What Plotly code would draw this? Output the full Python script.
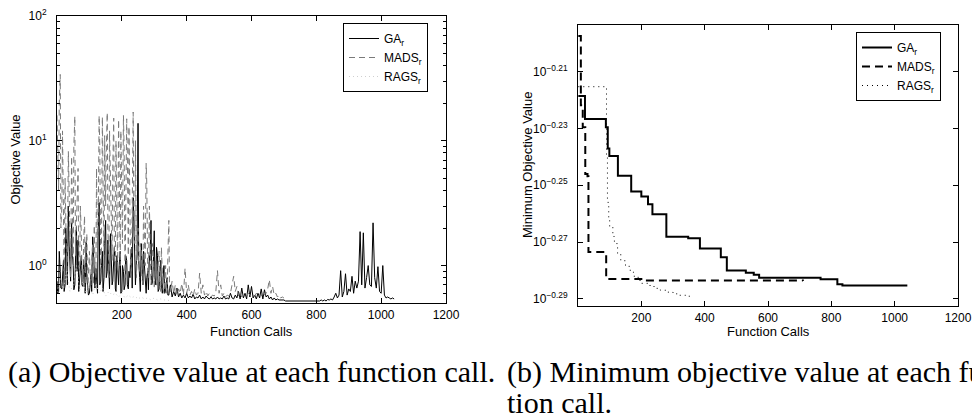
import plotly.graph_objects as go

# ---------------- (a) objective value at each function call ----------------
ga_calls = list(range(0, 1041, 5))
ga_values = [
    0.75, 0.62, 0.9, 0.65, 1.1, 0.7, 1.4, 3.0, 0.8, 2.2,
    1.0, 0.7, 2.05, 1.6, 0.8, 1.2, 0.68, 0.9, 1.55, 0.62,
    0.6, 0.85, 1.7, 0.7, 0.95, 0.6, 3.2, 0.75, 1.3, 0.8,
    2.3, 0.9, 1.1, 1.8, 0.7, 1.0, 0.65, 1.2, 0.7, 1.3,
    0.62, 0.9, 0.7, 1.1, 0.65, 0.8, 1.4, 3.5, 0.9, 1.1,
    13.8, 0.8, 1.5, 0.7, 1.0, 0.6, 0.9, 1.2, 2.3, 0.75,
    1.9, 0.7, 1.2, 0.65, 1.1, 0.6, 1.0, 0.62, 0.8, 0.58,
    0.7, 0.56, 0.62, 0.57, 0.66, 0.56, 0.6, 0.55, 0.58, 0.55,
    0.6, 0.55, 0.57, 0.55, 0.59, 0.54, 0.56, 0.55, 0.58, 0.54,
    0.56, 0.54, 0.57, 0.55, 0.54, 0.56, 0.54, 0.55, 0.54, 0.56,
    0.54, 0.55, 0.54, 0.57, 0.54, 0.55, 0.54, 0.6, 0.55, 0.54,
    0.58, 0.55, 0.62, 0.54, 0.66, 0.55, 0.6, 0.54, 0.7, 0.56,
    0.68, 0.55, 0.58, 0.54, 0.6, 0.55, 0.65, 0.54, 0.64, 0.56,
    0.58, 0.54, 0.56, 0.53, 0.55, 0.53, 0.54, 0.53, 0.53, 0.53,
    0.53, 0.52, 0.52, 0.52, 0.52, 0.52, 0.52, 0.52, 0.52, 0.52,
    0.52, 0.52, 0.52, 0.52, 0.52, 0.52, 0.525, 0.52, 0.52, 0.525,
    0.52, 0.525, 0.52, 0.53, 0.52, 0.53, 0.52, 0.535, 0.53, 0.54,
    0.53, 0.56, 0.6, 0.55, 0.58, 0.91, 0.56, 0.62, 0.86, 0.58,
    0.65, 0.62, 0.82, 0.6, 0.75, 0.66, 0.75, 1.87, 0.7, 1.83,
    0.66, 0.8, 1.0, 0.7, 0.68, 2.2, 0.8, 0.66, 0.98, 0.62,
    0.6, 1.0, 0.58, 0.55, 0.56, 0.55, 0.54, 0.55, 0.54,
]
# extra readings in the dense early part (calls 2, 7, ..., 347)
ga_calls_dense = list(range(2, 350, 5))
ga_values_dense = [
    0.6, 1.3, 0.66, 0.8, 0.62, 2.0, 0.7, 1.6, 0.75, 1.2,
    0.64, 1.4, 0.9, 0.62, 1.0, 0.7, 1.1, 0.6, 0.8, 0.58,
    0.75, 0.62, 1.4, 0.66, 0.8, 1.9, 0.7, 1.0, 0.62, 1.5,
    0.8, 1.6, 0.65, 1.1, 0.75, 1.4, 0.62, 0.85, 1.0, 0.6,
    1.0, 0.64, 1.2, 0.7, 0.9, 1.1, 0.66, 2.5, 0.7, 1.2,
    1.1, 0.62, 0.9, 1.3, 0.7, 0.8, 0.64, 1.1, 0.7, 1.0,
    0.8, 1.4, 0.62, 0.9, 0.7, 0.8, 0.6, 0.72, 0.58, 0.65,
]

mads_calls = list(range(0, 701, 5))
mads_values = [
    16, 4, 34, 3, 1.2, 5, 0.8, 8.2, 1.5, 7.5,
    1.0, 15.7, 2.0, 6.0, 0.9, 1.8, 0.7, 2.5, 1.1, 0.65,
    1.3, 0.7, 1.5, 2.1, 0.8, 1.2, 15.9, 0.9, 15.5, 1.0,
    3.0, 16.8, 0.8, 4.0, 1.1, 15.2, 0.9, 2.5, 14.8, 1.0,
    5.0, 16, 0.8, 15, 1.2, 3.5, 0.9, 17, 1.5, 0.8,
    2.0, 0.9, 1.3, 0.7, 1.2, 6.6, 0.8, 3.0, 0.7, 1.5,
    0.65, 1.1, 0.7, 1.3, 0.62, 0.9, 0.6, 1.0, 0.65, 2.3,
    0.62, 0.75, 0.6, 0.7, 0.58, 0.65, 0.6, 0.72, 0.58, 0.95,
    0.6, 0.7, 0.58, 0.62, 0.57, 0.65, 0.58, 0.6, 0.87, 0.6,
    0.7, 0.58, 0.62, 0.57, 0.6, 0.56, 0.58, 0.57, 0.62, 0.91,
    0.6, 0.7, 0.57, 0.6, 0.56, 0.58, 0.57, 0.6, 0.7, 0.82,
    0.62, 0.68, 0.57, 0.6, 0.56, 0.58, 0.56, 0.57, 0.6, 0.58,
    0.56, 0.58, 0.57, 0.6, 0.56, 0.58, 0.57, 0.62, 0.58, 0.6,
    0.65, 0.77, 0.6, 0.68, 0.58, 0.6, 0.56, 0.58, 0.55, 0.56, 0.55,
]
mads_calls_dense = list(range(2, 350, 5))
mads_values_dense = [
    6.0, 20, 2.0, 12, 0.9, 3.0, 1.2, 4.5, 0.8, 3.5,
    9.0, 1.2, 4.0, 1.0, 3.0, 0.8, 1.5, 0.7, 1.8, 0.9,
    0.9, 1.1, 0.7, 1.0, 6.0, 2.0, 9.0, 1.3, 5.0, 11,
    8.0, 2.0, 12, 1.5, 6.0, 1.2, 10, 0.9, 6.0, 12,
    1.5, 9.0, 2.0, 8.0, 13, 1.0, 6.0, 2.5, 10, 1.1,
    1.0, 1.5, 0.8, 3.0, 1.0, 4.5, 0.8, 2.0, 0.9, 1.3,
    0.8, 0.7, 1.0, 0.7, 1.4, 0.65, 0.8, 0.6, 1.2, 0.7,
]

rags_calls = list(range(0, 351, 10))
rags_values = [
    0.61, 0.8, 0.65, 0.9, 0.62, 0.7, 1.0, 0.64, 0.75, 0.6,
    0.68, 0.58, 0.72, 0.6, 0.66, 0.57, 0.62, 0.58, 0.6, 0.56,
    0.6, 0.55, 0.58, 0.55, 0.57, 0.54, 0.56, 0.54, 0.55, 0.53,
    0.55, 0.53, 0.54, 0.53, 0.53, 0.52,
]

# ---------------- (b) minimum objective value ----------------
ga_min_calls = [1, 22, 88, 94, 99, 126, 168, 200, 221, 235, 279, 348, 385,
                451, 470, 530, 555, 572, 766, 819, 835, 1040]
ga_min_values = [0.6045, 0.5934, 0.5894, 0.5794, 0.5759, 0.5667, 0.5595,
                 0.5572, 0.5538, 0.5493, 0.5394, 0.5387, 0.5343, 0.5305,
                 0.5248, 0.5239, 0.5230, 0.5218, 0.5211, 0.5190, 0.5185,
                 0.5185]

mads_min_calls = [1, 9, 15, 23, 30, 33, 89, 200, 710]
mads_min_values = [0.6346, 0.6000, 0.5894, 0.5675, 0.5665, 0.5327, 0.5212,
                   0.5206, 0.5204]

rags_min_calls = [1, 88, 90, 93, 97, 100, 110, 115, 125, 135, 150, 165, 175,
                  190, 200, 220, 240, 260, 280, 300, 320, 340, 355]
rags_min_values = [0.6091, 0.6091, 0.5754, 0.5546, 0.5470, 0.5438, 0.5395,
                   0.5364, 0.5321, 0.5290, 0.5266, 0.5242, 0.5224, 0.5206,
                   0.5194, 0.5185, 0.5173, 0.5165, 0.5157, 0.5150, 0.5144,
                   0.5140, 0.5138]

x_ticks = [200, 400, 600, 800, 1000, 1200]
left_major = [1, 10, 100]
left_major_text = ["10<sup>0</sup>", "10<sup>1</sup>", "10<sup>2</sup>"]
left_minor = [0.6, 0.7, 0.8, 0.9, 2, 3, 4, 5, 6, 7, 8, 9,
              20, 30, 40, 50, 60, 70, 80, 90]
right_exps = ["-0.29", "-0.27", "-0.25", "-0.23", "-0.21"]
right_major = [10 ** float(e) for e in right_exps]
right_major_text = ["10<sup>" + e.replace("-", "\u2212") + "</sup>" for e in right_exps]


def merged(c1, v1, c2, v2):
    pairs = sorted(list(zip(c1, v1)) + list(zip(c2, v2)))
    return [p[0] for p in pairs], [p[1] for p in pairs]


ga_x, ga_y = merged(ga_calls, ga_values, ga_calls_dense, ga_values_dense)
mads_x, mads_y = merged(mads_calls, mads_values, mads_calls_dense, mads_values_dense)

W, H = 972, 414
SANS = "Liberation Sans, Arial, sans-serif"
SERIF = "Liberation Serif, Times New Roman, serif"

fig = go.Figure()

fig.add_trace(go.Scatter(x=ga_x, y=ga_y, mode="lines", name="GA<sub>r</sub>",
                         line=dict(color="black", width=1), xaxis="x", yaxis="y",
                         legend="legend"))
fig.add_trace(go.Scatter(x=mads_x, y=mads_y, mode="lines", name="MADS<sub>r</sub>",
                         line=dict(color="#7a7a7a", width=1, dash="6px,4px"),
                         xaxis="x", yaxis="y", legend="legend"))
fig.add_trace(go.Scatter(x=rags_calls, y=rags_values, mode="lines", name="RAGS<sub>r</sub>",
                         line=dict(color="#cfcfcf", width=1, dash="1px,3px"),
                         xaxis="x", yaxis="y", legend="legend"))
fig.add_trace(go.Scatter(x=[], y=[], xaxis="x", yaxis="y3", showlegend=False,
                         hoverinfo="skip"))

fig.add_trace(go.Scatter(x=ga_min_calls, y=ga_min_values, mode="lines", name="GA<sub>r</sub>",
                         line=dict(color="black", width=2, shape="hv"),
                         xaxis="x2", yaxis="y2", legend="legend2"))
fig.add_trace(go.Scatter(x=mads_min_calls, y=mads_min_values, mode="lines", name="MADS<sub>r</sub>",
                         line=dict(color="black", width=2, shape="hv", dash="8px,5px"),
                         xaxis="x2", yaxis="y2", legend="legend2"))
fig.add_trace(go.Scatter(x=rags_min_calls, y=rags_min_values, mode="lines", name="RAGS<sub>r</sub>",
                         line=dict(color="black", width=1, shape="hv", dash="1px,4px"),
                         xaxis="x2", yaxis="y2", legend="legend2"))

axis_common = dict(showline=True, linecolor="black", linewidth=1, mirror="ticks",
                   ticks="inside", tickcolor="black", showgrid=False, zeroline=False,
                   automargin=False,
                   tickfont=dict(family=SANS, size=12, color="black"))

L0, L1 = 57 / W, 446 / W
R0, R1 = 578 / W, 958 / W

fig.update_layout(
    template="none",
    width=W, height=H, margin=dict(l=0, r=0, t=0, b=0, pad=0, autoexpand=False),
    paper_bgcolor="white", plot_bgcolor="white",
    xaxis=dict(domain=[L0, L1], range=[0, 1200], anchor="y", tickvals=x_ticks,
               ticklen=5, ticklabelstandoff=1, **axis_common),
    yaxis=dict(domain=[1 - 303 / H, 1 - 16 / H], type="log", range=[-0.30, 2],
               anchor="x", tickvals=left_major, ticktext=left_major_text,
               ticklen=5, ticklabelstandoff=7, **axis_common),
    yaxis3=dict(domain=[1 - 303 / H, 1 - 16 / H], type="log", range=[-0.30, 2],
                anchor="x", overlaying="y", tickvals=left_minor, showticklabels=False,
                ticks="inside", ticklen=3, tickcolor="black", mirror="ticks",
                showline=False, showgrid=False, zeroline=False, automargin=False),
    xaxis2=dict(domain=[R0, R1], range=[0, 1200], anchor="y2", tickvals=x_ticks,
                ticklen=5, ticklabelstandoff=1, **axis_common),
    yaxis2=dict(domain=[1 - 305.5 / H, 1 - 25 / H], type="log",
                range=[-0.2923, -0.1936], anchor="x2", tickvals=right_major,
                ticktext=right_major_text, ticklen=5, ticklabelstandoff=7,
                **axis_common),
    legend=dict(x=343 / W, y=1 - 23 / H, xanchor="left", yanchor="top",
                bgcolor="white", bordercolor="black", borderwidth=1,
                font=dict(family=SANS, size=12, color="black")),
    legend2=dict(x=856 / W, y=1 - 32 / H, xanchor="left", yanchor="top",
                 bgcolor="white", bordercolor="black", borderwidth=1,
                 font=dict(family=SANS, size=12, color="black")),
    showlegend=True,
)

ann_font = dict(family=SANS, size=13, color="black")
cap_font = dict(family=SERIF, size=30, color="black")
fig.add_annotation(text="Function Calls", x=(57 + 446) / 2 / W, y=1 - 331 / H,
                   xref="paper", yref="paper", showarrow=False, font=ann_font,
                   xanchor="center", yanchor="middle")
fig.add_annotation(text="Function Calls", x=(578 + 958) / 2 / W, y=1 - 331 / H,
                   xref="paper", yref="paper", showarrow=False, font=ann_font,
                   xanchor="center", yanchor="middle")
fig.add_annotation(text="Objective Value", x=15 / W, y=1 - 159.5 / H, textangle=-90,
                   xref="paper", yref="paper", showarrow=False, font=ann_font,
                   xanchor="center", yanchor="middle")
fig.add_annotation(text="Minimum Objective Value", x=527 / W, y=1 - 165 / H, textangle=-90,
                   xref="paper", yref="paper", showarrow=False, font=ann_font,
                   xanchor="center", yanchor="middle")
fig.add_annotation(text="(a) Objective value at each function call.",
                   x=(57 + 446) / 2 / W, y=1 - 372 / H, xref="paper", yref="paper",
                   showarrow=False, font=cap_font, xanchor="center", yanchor="middle")
fig.add_annotation(text="(b) Minimum objective value at each func-",
                   x=505 / W, y=1 - 372 / H, xref="paper", yref="paper",
                   showarrow=False, font=cap_font, xanchor="left", yanchor="middle")
fig.add_annotation(text="tion call.",
                   x=505 / W, y=1 - 402 / H, xref="paper", yref="paper",
                   showarrow=False, font=cap_font, xanchor="left", yanchor="middle")

fig.write_html("out.html", config={"displayModeBar": False},
               post_script="document.body.style.margin='0';document.body.style.overflow='hidden';")
